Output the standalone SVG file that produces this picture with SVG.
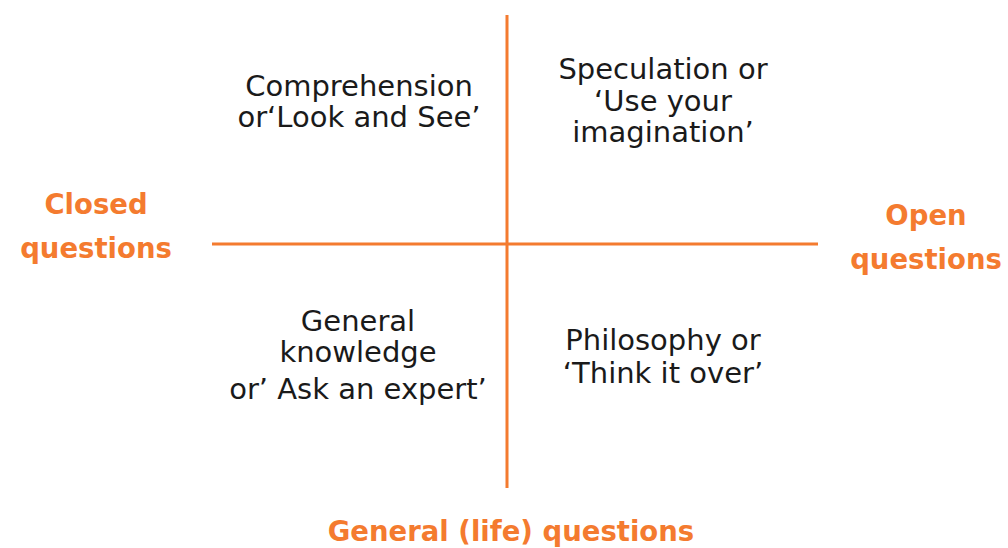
<svg xmlns="http://www.w3.org/2000/svg" width="1008" height="548" viewBox="0 0 1008 548">
  <style>
    .axis { stroke: #F47B2F; stroke-width: 3; fill: none; }
    .q { font-family: "DejaVu Sans", "Open Sans", sans-serif; font-size: 29px; fill: #1a1a1a; text-anchor: middle; }
    .lbl { font-family: "DejaVu Sans", "Open Sans", sans-serif; font-size: 27.5px; font-weight: 700; fill: #F47B2F; text-anchor: middle; }
  </style>
  <rect width="1008" height="548" fill="#ffffff"/>
  <g id="connectors">
    <line class="axis" x1="507" y1="15" x2="507" y2="488"/>
    <line class="axis" x1="212" y1="244" x2="818" y2="244"/>
  </g>
  <g id="comprehension">
    <text class="q" x="359" y="96">Comprehension</text>
    <text class="q" x="359" y="127">or‘Look and See’</text>
  </g>
  <g id="speculation">
    <text class="q" x="663" y="79">Speculation or</text>
    <text class="q" x="663" y="111">‘Use your</text>
    <text class="q" x="663" y="142">imagination’</text>
  </g>
  <g id="general-knowledge">
    <text class="q" x="358" y="331">General</text>
    <text class="q" x="358" y="362">knowledge</text>
    <text class="q" x="358" y="399">or’ Ask an expert’</text>
  </g>
  <g id="philosophy">
    <text class="q" x="663" y="350">Philosophy or</text>
    <text class="q" x="663" y="383">‘Think it over’</text>
  </g>
  <g id="closed">
    <text class="lbl" x="96" y="214">Closed</text>
    <text class="lbl" x="96" y="258">questions</text>
  </g>
  <g id="open">
    <text class="lbl" x="926" y="225">Open</text>
    <text class="lbl" x="926" y="269">questions</text>
  </g>
  <g id="general-life">
    <text class="lbl" x="511" y="541">General (life) questions</text>
  </g>
</svg>
